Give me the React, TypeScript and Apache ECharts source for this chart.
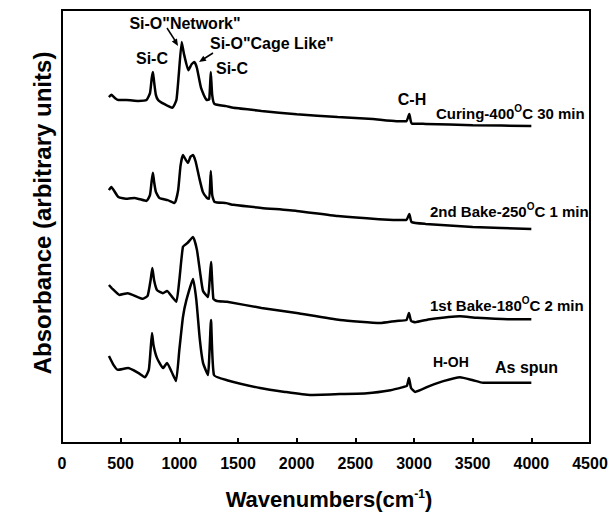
import React, { useEffect, useRef } from "react";
import * as echarts from "echarts";

// Wavenumbers (cm-1) and absorbance (arbitrary units, stacked offsets)
const curingWn = [400, 420, 450, 480, 550, 650, 720, 750, 765, 775, 785, 800, 820, 870, 940, 975, 995, 1020, 1040, 1077, 1105, 1128, 1150, 1185, 1233, 1255, 1268, 1280, 1300, 1400, 1460, 1700, 2000, 2350, 2650, 2850, 2935, 2960, 2980, 3100, 3500, 4000];
const curingAbs = [79.9, 80.4, 79.7, 79.2, 79.2, 79.0, 79.2, 80.8, 84.3, 85.7, 83.4, 80.4, 79.2, 78.3, 77.4, 79.2, 85.0, 92.6, 89.8, 86.1, 87.5, 88.0, 86.6, 82.0, 79.2, 79.4, 85.7, 80.4, 78.3, 77.8, 77.4, 76.7, 75.9, 75.3, 74.8, 74.3, 74.3, 76.0, 73.8, 73.7, 73.4, 73.2];

const bake2Wn = [400, 420, 480, 560, 620, 720, 750, 765, 775, 785, 800, 830, 900, 960, 990, 1010, 1031, 1055, 1074, 1095, 1117, 1140, 1170, 1200, 1235, 1255, 1268, 1280, 1300, 1400, 1460, 1700, 2000, 2350, 2700, 2935, 2960, 2980, 3100, 3500, 4000];
const bake2Abs = [58.4, 59.1, 56.8, 56.4, 56.6, 55.9, 57.3, 60.7, 62.4, 60.3, 58.0, 56.6, 56.1, 55.4, 58.4, 64.0, 66.5, 65.4, 64.7, 66.1, 66.5, 64.9, 61.2, 58.0, 56.6, 56.4, 62.8, 57.3, 55.7, 55.4, 55.0, 54.3, 53.6, 52.4, 51.7, 51.5, 52.9, 51.0, 50.6, 49.9, 49.4];

const bake1Wn = [400, 430, 490, 560, 690, 730, 755, 770, 785, 810, 860, 895, 940, 975, 1000, 1031, 1070, 1117, 1150, 1180, 1202, 1244, 1270, 1290, 1320, 1406, 1700, 2000, 2370, 2710, 2850, 2935, 2957, 2975, 3010, 3136, 3392, 3537, 3800, 4000];
const bake1Abs = [36.5, 35.6, 34.2, 34.6, 33.3, 34.0, 37.6, 40.4, 37.6, 35.3, 34.6, 35.1, 33.7, 32.6, 37.6, 45.3, 46.2, 47.6, 44.6, 38.8, 35.1, 33.7, 41.8, 33.3, 32.8, 32.6, 31.2, 30.0, 28.4, 27.7, 28.2, 28.4, 30.0, 28.2, 27.9, 28.6, 29.3, 28.9, 28.6, 28.6];

const spunWn = [400, 440, 477, 563, 650, 707, 740, 755, 767, 780, 810, 861, 895, 935, 972, 1000, 1031, 1060, 1117, 1145, 1175, 1202, 1244, 1270, 1295, 1406, 1688, 1900, 2114, 2369, 2600, 2800, 2906, 2940, 2957, 2975, 3009, 3136, 3250, 3392, 3503, 3588, 3800, 4000];
const spunAbs = [20.1, 18.0, 16.9, 17.3, 16.2, 15.2, 16.9, 21.5, 25.4, 22.6, 19.6, 17.3, 18.5, 16.4, 14.3, 21.5, 29.1, 33.0, 37.9, 33.0, 23.8, 18.5, 15.7, 28.4, 15.7, 14.5, 12.7, 11.8, 11.1, 11.3, 11.5, 12.2, 12.9, 13.2, 15.0, 12.7, 11.8, 13.2, 14.3, 15.2, 14.5, 13.9, 13.9, 13.9];

const seriesNames = ["Curing-400°C 30 min", "2nd Bake-250°C 1 min", "1st Bake-180°C 2 min", "As spun"];
const xTicks = { min: 0, max: 4500, interval: 500 };

const FONT = "'Liberation Sans', Arial, Helvetica, sans-serif";

function zip(xs: number[], ys: number[]) {
  return xs.map((x, i) => [x, ys[i]]);
}

function tempLabel(pre: string, post: string) {
  return `{n|${pre}}{s|O}{n|${post}}`;
}

export default function App() {
  const ref = useRef<HTMLDivElement>(null);
  useEffect(() => {
    if (!ref.current) return;
    const chart = echarts.init(ref.current, undefined, { renderer: "svg" });
    const rich = {
      n: { fontSize: 15, fontWeight: "bold", fontFamily: FONT, color: "#000", lineHeight: 18, verticalAlign: "bottom" },
      s: { fontSize: 10, fontWeight: "bold", fontFamily: FONT, color: "#000", lineHeight: 18, verticalAlign: "top" },
    };
    const txt = (text: string, x: number, y: number, align = "left", size = 15) => ({
      type: "text",
      x,
      y,
      style: { text, fill: "#000", font: `bold ${size}px ${FONT}`, align, verticalAlign: "middle" },
    });
    const richTxt = (text: string, x: number, y: number) => ({
      type: "text",
      x,
      y,
      style: { text, rich, align: "left", verticalAlign: "middle", fill: "#000" },
    });
    const datasets = [
      zip(curingWn, curingAbs),
      zip(bake2Wn, bake2Abs),
      zip(bake1Wn, bake1Abs),
      zip(spunWn, spunAbs),
    ];
    chart.setOption({
      animation: false,
      grid: { left: 62, right: 24, top: 10, bottom: 72, show: true, borderColor: "#000", borderWidth: 2 },
      xAxis: {
        type: "value",
        min: xTicks.min,
        max: xTicks.max,
        interval: xTicks.interval,
        axisLine: { show: true, lineStyle: { color: "#000", width: 2 } },
        axisTick: { show: true, inside: true, length: 5, lineStyle: { color: "#000", width: 2 } },
        axisLabel: {
          color: "#000",
          fontSize: 16,
          fontWeight: "bold",
          fontFamily: FONT,
          margin: 12,
          formatter: (v: number) => String(v),
        },
        splitLine: { show: false },
      },
      yAxis: {
        type: "value",
        min: 0,
        max: 100,
        axisLine: { show: true, lineStyle: { color: "#000", width: 2 } },
        axisTick: { show: false },
        axisLabel: { show: false },
        splitLine: { show: false },
      },
      series: datasets.map((d, i) => ({
        name: seriesNames[i],
        type: "line",
        data: d,
        showSymbol: false,
        smooth: 0.15,
        lineStyle: { color: "#000", width: 2.5 },
      })),
      graphic: [
        txt('Si-O"Network"', 185, 23, "center", 16),
        txt("Si-C", 152, 58, "center", 16),
        txt('Si-O"Cage Like"', 210, 43, "left", 16),
        txt("Si-C", 232, 68, "center", 16),
        txt("C-H", 412, 99, "center", 16),
        richTxt(tempLabel("Curing-400", "C 30 min"), 436, 112),
        richTxt(tempLabel("2nd Bake-250", "C 1 min"), 430, 210),
        richTxt(tempLabel("1st Bake-180", "C 2 min"), 430, 304),
        txt("H-OH", 433, 362, "left", 14),
        txt("As spun", 495, 367, "left", 16),
        { type: "line", shape: { x1: 167, y1: 28, x2: 176, y2: 42 }, style: { stroke: "#000", lineWidth: 1.5 } },
        { type: "polygon", shape: { points: [[178, 46], [171.8, 41.6], [177, 38.4]] }, style: { fill: "#000" } },
        { type: "line", shape: { x1: 213, y1: 53, x2: 202, y2: 60 }, style: { stroke: "#000", lineWidth: 1.5 } },
        { type: "polygon", shape: { points: [[199, 62], [203.3, 55.7], [206.5, 60.7]] }, style: { fill: "#000" } },
        {
          type: "text",
          x: 42,
          y: 213,
          rotation: Math.PI / 2,
          style: { text: "Absorbance (arbitrary units)", fill: "#000", font: `bold 24px ${FONT}`, align: "center", verticalAlign: "middle" },
        },
        {
          type: "text",
          x: 329,
          y: 499,
          style: {
            text: "{a|Wavenumbers(cm}{b|-1}{a|)}",
            align: "center",
            verticalAlign: "middle",
            rich: {
              a: { fontSize: 22, fontWeight: "bold", fontFamily: FONT, color: "#000", lineHeight: 22, verticalAlign: "bottom" },
              b: { fontSize: 12, fontWeight: "bold", fontFamily: FONT, color: "#000", lineHeight: 22, verticalAlign: "top" },
            },
          },
        },
      ],
    });
    return () => chart.dispose();
  }, []);
  return <div ref={ref} style={{ position: "fixed", left: 0, top: 0, width: 614, height: 515, background: "#fff" }} />;
}
